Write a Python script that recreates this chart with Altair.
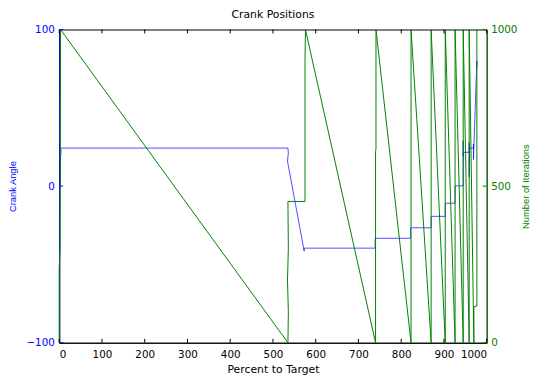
import altair as alt
import pandas as pd

# ---- data ----
blue_pct = [2, 3, 3, 4, 4, 535, 536, 534, 536, 573, 573, 739, 739, 822, 822, 870, 870,
            903, 903, 926, 926, 945, 945, 945, 946, 959, 959, 959, 960, 969, 969, 969, 977, 977]
blue_angle = [0, 2, 18, 21, 24.3, 24.3, 21, 16, 13, -41.5, -39.6, -39.6, -33.3, -33.3, -26.6, -26.6, -19.3,
              -19.3, -10.9, -10.9, 0.2, 0.2, 29, 19, 21.6, 21.6, 27.7, 6, 24.3, 24.3, 27, 17, 80, 76]

green_pct = [0, 0, 2, 3, 535, 536, 534, 536, 535, 575, 575, 576, 740, 740, 741, 741,
             823, 823, 870, 870, 903, 903, 926, 926, 945, 945, 959, 959, 970, 970, 977, 977]
green_iter = [0, 240, 300, 1000, 0, 100, 200, 300, 451, 451, 905, 1000, 0, 610, 620, 1000,
              0, 1000, 0, 1000, 0, 1000, 0, 1000, 0, 1000, 0, 1000, 0, 115, 117, 1000]

x_ticks = [0, 100, 200, 300, 400, 500, 600, 700, 800, 900, 1000]
left_ticks = [-100, 0, 100]
right_ticks = [0, 500, 1000]

BLUE = "#0000ff"
GREEN = "#008000"
W, H = 434, 318

df_b = pd.DataFrame({"pct": blue_pct, "angle": blue_angle, "i": range(len(blue_pct))})
df_g = pd.DataFrame({"pct": green_pct, "iter": green_iter, "i": range(len(green_pct))})
df_xt = pd.DataFrame({"pct": x_ticks})
df_lt = pd.DataFrame({"v": left_ticks})
df_rt = pd.DataFrame({"v": right_ticks})

xscale = alt.Scale(domain=[0, 1000], nice=False, zero=False)
lscale = alt.Scale(domain=[-100, 100], nice=False, zero=False)
rscale = alt.Scale(domain=[0, 1000], nice=False, zero=False)

xaxis = alt.Axis(values=x_ticks, format="d", title="Percent to Target", ticks=False, grid=False,
                 domainColor="black", domainWidth=1, labelColor="black",
                 labelFont="DejaVu Sans", labelFontSize=10.5, labelPadding=7,
                 titleFont="DejaVu Sans", titleFontSize=11, titleFontWeight="normal",
                 titleColor="black", titlePadding=4)

laxis = alt.Axis(orient="left", values=left_ticks, title="Crank Angle", ticks=False, grid=False,
                 domainColor=BLUE, domainWidth=1, labelColor=BLUE,
                 labelFont="DejaVu Sans", labelFontSize=10.5, labelPadding=5,
                 titleFont="Liberation Sans", titleFontSize=9.5, titleFontWeight="normal",
                 titleColor=BLUE, titlePadding=9)

raxis = alt.Axis(orient="right", values=right_ticks, format="d", title="Number of Iterations",
                 ticks=False, grid=False,
                 domainColor=GREEN, domainWidth=1, labelColor=GREEN,
                 labelFont="DejaVu Sans", labelFontSize=10.5, labelPadding=4,
                 titleFont="Liberation Sans", titleFontSize=9.5, titleFontWeight="normal",
                 titleColor=GREEN, titlePadding=14, titleAngle=270)

blue = alt.Chart(df_b).mark_line(color=BLUE, strokeWidth=0.7).encode(
    x=alt.X("pct:Q", scale=xscale, axis=xaxis),
    y=alt.Y("angle:Q", scale=lscale, axis=laxis),
    order=alt.Order("i:Q"),
)

green = alt.Chart(df_g).mark_line(color=GREEN, strokeWidth=1).encode(
    x=alt.X("pct:Q", scale=xscale, axis=xaxis),
    y=alt.Y("iter:Q", scale=rscale, axis=raxis),
    order=alt.Order("i:Q"),
)

bot_ticks = alt.Chart(df_xt).mark_rule(color="black", strokeWidth=1).encode(
    x=alt.X("pct:Q", scale=xscale, axis=xaxis), y=alt.value(H), y2=alt.value(H - 4))
top_ticks = alt.Chart(df_xt).mark_rule(color="black", strokeWidth=1).encode(
    x=alt.X("pct:Q", scale=xscale, axis=xaxis), y=alt.value(0), y2=alt.value(4))
l_ticks = alt.Chart(df_lt).mark_rule(color=BLUE, strokeWidth=1).encode(
    y=alt.Y("v:Q", scale=lscale, axis=None), x=alt.value(0), x2=alt.value(4))
r_ticks = alt.Chart(df_rt).mark_rule(color=GREEN, strokeWidth=1).encode(
    y=alt.Y("v:Q", scale=rscale, axis=None), x=alt.value(W - 4), x2=alt.value(W))

chart = alt.layer(blue, green, bot_ticks, top_ticks, l_ticks, r_ticks).resolve_scale(
    y="independent"
).properties(
    width=W, height=H,
    title=alt.Title("Crank Positions", font="DejaVu Sans", fontSize=11, fontWeight="normal",
                    color="black", offset=5, anchor="middle"),
    autosize=alt.AutoSizeParams(type="none"),
    padding={"left": 52, "top": 19, "right": 47, "bottom": 36},
).configure_view(stroke="black", strokeWidth=1)

chart.save("out.html", embed_options={"renderer": "svg", "actions": False})
